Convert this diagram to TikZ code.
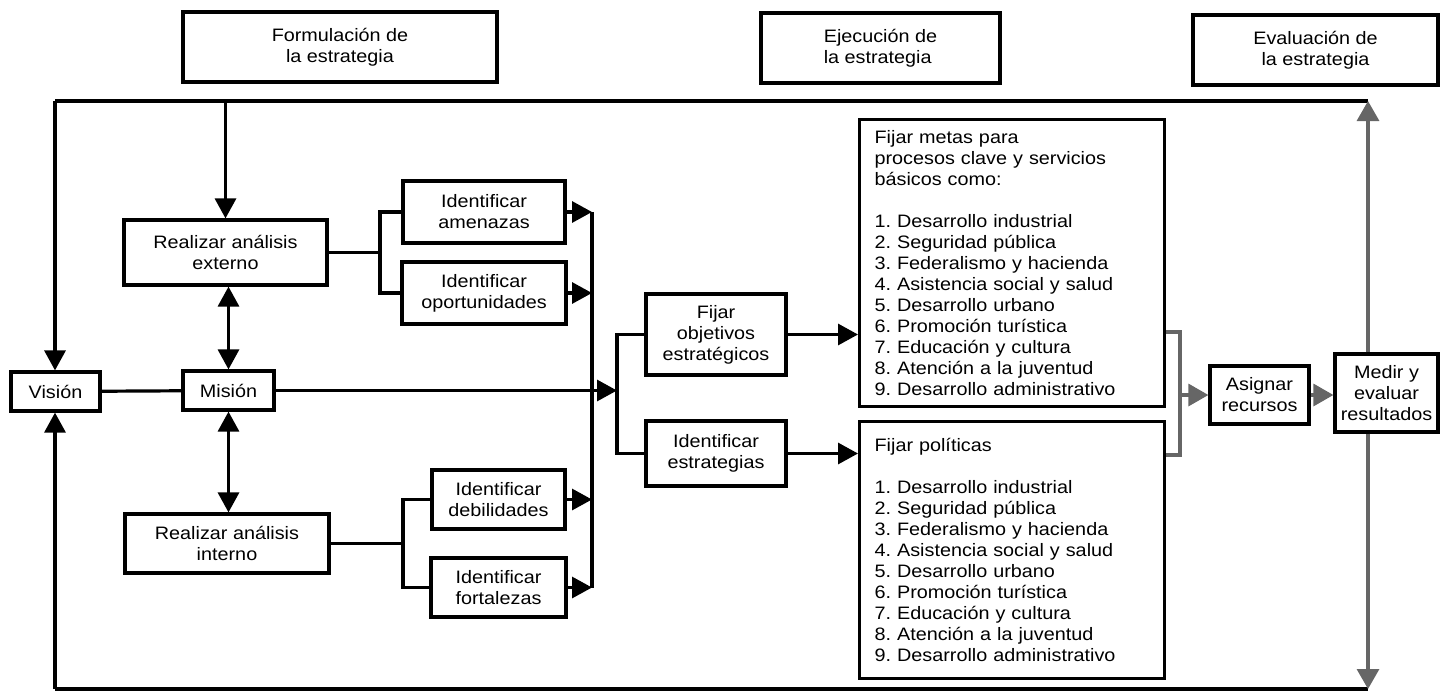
\documentclass[tikz,border=0pt]{standalone}
\usepackage{fontspec}
\setmainfont{Liberation Sans}[FakeStretch=1.1]
\usepackage{tikz}
\usetikzlibrary{calc}
\usetikzlibrary{arrows.meta}
\frenchspacing
\tikzstyle{header} = [rectangle, draw=black, line width=1.6pt, align=center, minimum height=35pt, inner sep=1pt]
\tikzstyle{process} = [rectangle, draw=black, line width=1.6pt, align=center, inner sep=1pt]
\tikzstyle{listbox} = [rectangle, draw=black, line width=1.6pt, align=left, anchor=north west, inner xsep=7.5pt, text width=137.5pt, minimum width=152.5pt]
\tikzstyle{link} = [line width=1.6pt]
\tikzstyle{arrow} = [line width=1.6pt, -{Triangle[length=10pt,width=10.5pt]}]
\tikzstyle{dblarrow} = [line width=1.6pt, {Triangle[length=10pt,width=10.5pt]}-{Triangle[length=10pt,width=10.5pt]}]
\tikzstyle{graylink} = [line width=1.6pt, draw=black!60]
\tikzstyle{grayarrow} = [line width=1.6pt, draw=black!60, -{Triangle[length=10pt,width=11pt]}]

\begin{document}
\begin{tikzpicture}[x=0.5pt, y=-0.5pt, font=\fontsize{9}{10.5}\selectfont]
\useasboundingbox (0,0) rectangle (1440,691);

\node (formu) [header, minimum width=157pt] at (340,47) {Formulación de\\la estrategia};
\node (ejec) [header, minimum width=119.5pt, align=left] at (880.5,48) {Ejecución de\\la estrategia};
\node (evalu) [header, minimum width=122.5pt] at (1315.5,50) {Evaluación de\\la estrategia};

\node (vision) [process, minimum width=44.5pt, minimum height=19.5pt] at (55.5,391.5) {Visión};
\node (mision) [process, minimum width=45.5pt, minimum height=19.5pt] at (228.5,390.5) {Misión};
\node (rext) [process, minimum width=101.5pt, minimum height=32.5pt] at (225.5,252.5) {Realizar análisis\\externo};
\node (rint) [process, minimum width=102pt, minimum height=29.5pt] at (227,543.5) {Realizar análisis\\interno};
\node (amen) [process, minimum width=81pt, minimum height=31pt] at (484,212) {Identificar\\amenazas};
\node (oport) [process, minimum width=82pt, minimum height=31pt] at (484,293) {Identificar\\oportunidades};
\node (debil) [process, minimum width=66.5pt, minimum height=29.5pt] at (498.5,499.5) {Identificar\\debilidades};
\node (fort) [process, minimum width=67.5pt, minimum height=29.5pt] at (498.5,587.5) {Identificar\\fortalezas};
\node (fobj) [process, minimum width=70pt, minimum height=40.5pt] at (716,334.5) {Fijar\\objetivos\\estratégicos};
\node (iestr) [process, minimum width=70pt, minimum height=32.5pt] at (716,453.5) {Identificar\\estrategias};

\node (metas) [listbox, minimum height=143.5pt] at (858,118) {Fijar metas para\\procesos clave y servicios\\básicos como:\\[10.5pt]
1. Desarrollo industrial\\2. Seguridad pública\\3. Federalismo y hacienda\\4. Asistencia social y salud\\5. Desarrollo urbano\\6. Promoción turística\\7. Educación y cultura\\8. Atención a la juventud\\9. Desarrollo administrativo};
\node (polit) [listbox, minimum height=128.5pt] at (858,420) {Fijar políticas\\[10.5pt]
1. Desarrollo industrial\\2. Seguridad pública\\3. Federalismo y hacienda\\4. Asistencia social y salud\\5. Desarrollo urbano\\6. Promoción turística\\7. Educación y cultura\\8. Atención a la juventud\\9. Desarrollo administrativo};

\node (asign) [process, minimum width=49.5pt, minimum height=29pt] at (1259.5,395) {Asignar\\recursos};
\node (medir) [process, minimum width=51.5pt, minimum height=39pt] at (1386.5,393) {Medir y\\evaluar\\resultados};

\coordinate (tl) at (55,101);
\coordinate (tr) at (1368,101);
\coordinate (bl) at (55,689);
\coordinate (br) at (1368,689);
\coordinate (fe) at (380,252.5);
\coordinate (fi) at (403,543.5);
\coordinate (ctop) at (592,212);
\coordinate (cbot) at (592,587.5);
\coordinate (jn) at (617,393);
\coordinate (bkt) at (1180,332);
\coordinate (bk) at (1180,395);
\coordinate (bkb) at (1180,455);

\draw [link] (tl) -- (tr);
\draw [link] (bl) -- (br);
\draw [arrow] (tl) -- (tl |- vision.north);
\draw [arrow] (bl) -- (bl |- vision.south);
\draw [arrow] (rext.north |- tl) -- (rext.north);
\draw [grayarrow] (medir.north -| tr) -- (tr);
\draw [grayarrow] (medir.south -| br) -- (br);
\draw [link] (vision) -- (mision);
\draw [dblarrow] (mision.north) -- (mision.north |- rext.south);
\draw [dblarrow] (mision.south) -- (mision.south |- rint.north);
\draw [link] (rext.east) -- (fe);
\draw [link] (amen.west) -| (fe) |- (oport.west);
\draw [link] (rint.east) -- (fi);
\draw [link] (debil.west) -| (fi) |- (fort.west);
\draw [arrow] (amen.east) -- (amen.east -| ctop);
\draw [arrow] (oport.east) -- (oport.east -| ctop);
\draw [arrow] (debil.east) -- (debil.east -| ctop);
\draw [arrow] (fort.east) -- (fort.east -| ctop);
\draw [link] (ctop) -- (cbot);
\draw [arrow] (mision.east) -- (mision.east -| jn);
\draw [link] (fobj.west) -| (jn) |- (iestr.west);
\draw [arrow] (fobj.east) -- (fobj.east -| metas.west);
\draw [arrow] (iestr.east) -- (iestr.east -| polit.west);
\draw [graylink] (metas.east |- bkt) -- (bkt) -- (bkb) -- (polit.east |- bkb);
\draw [grayarrow] (bk) -- (asign.west);
\draw [grayarrow] (asign.east) -- (asign.east -| medir.west);
\end{tikzpicture}
\end{document}
